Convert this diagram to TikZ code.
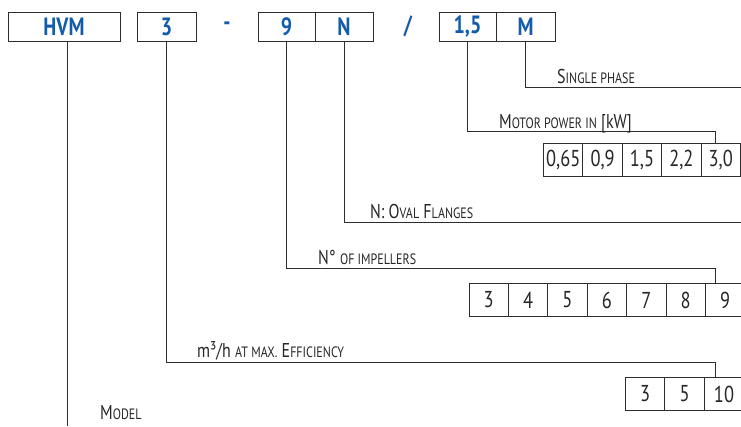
\documentclass[tikz,border=0pt]{standalone}
\usepackage{fontspec}
\setmainfont{PT Sans}[FakeStretch=0.8]
\usetikzlibrary{calc}
\definecolor{codeblue}{RGB}{20,92,170}
\definecolor{linegray}{RGB}{45,45,45}
\newcommand{\smc}[1]{{\fontsize{15}{18}\selectfont #1}}

\begin{document}
\begin{tikzpicture}[x=1pt, y=-1pt,
  code/.style={draw=linegray, line width=1pt, minimum height=29pt, inner sep=0,
    font=\fontsize{25}{29}\selectfont\bfseries, text=codeblue},
  sep/.style={inner sep=0, font=\fontsize{25}{29}\selectfont\bfseries, text=codeblue},
  opt/.style={draw=linegray, line width=1pt, minimum width=39.4pt, minimum height=33pt,
    inner sep=0, anchor=north west, font=\fontsize{23}{27}\selectfont, text=black!85},
  lbl/.style={anchor=base west, inner sep=0, font=\fontsize{20}{24}\selectfont, text=black!85},
  link/.style={draw=linegray, line width=1pt}]
\useasboundingbox (0,0) rectangle (741,426);
\clip (0,0) rectangle (741,426);

\node[code, minimum width=112pt] (hvm) at (64,26.5) {HVM};
\node[code, minimum width=59pt] (size) at (166.5,26.5) {3};
\node[sep] (dash) at (227,26.5) {-};
\node[code, minimum width=57pt] (stages) at (286.5,26.5) {9};
\node[code, minimum width=58pt] (flange) at (344,26.5) {N};
\node[sep] (slash) at (408,26.5) {/};
\node[code, minimum width=57pt] (power) at (467.5,26.5) {1,5};
\node[code, minimum width=59pt] (phase) at (525.5,26.5) {M};

\foreach \v [count=\i] in {{0,65},{0,9},{1,5},{2,2},{3,0}}
  \node[opt] (kw\i) at ({543+39.4*(\i-1)},143) {\v};
\foreach \v [count=\i] in {3,...,9}
  \node[opt] (imp\i) at ({468.5+39.4*(\i-1)},283) {\v};
\foreach \v [count=\i] in {3,5,10}
  \node[opt] (flow\i) at ({625+39.4*(\i-1)},377) {\v};

\coordinate (phaseend) at (741,87);
\coordinate (kwturn) at (715,131);
\coordinate (flangeend) at (741,222);
\coordinate (impturn) at (715,268);
\coordinate (flowturn) at (715,362);
\coordinate (modelend) at (67,426);

\draw[link] (phase.south) |- (phaseend);
\draw[link] (power.south) |- (kwturn) -- (kwturn |- kw5.north);
\draw[link] (flange.south) |- (flangeend);
\draw[link] (stages.south) |- (impturn) -- (impturn |- imp7.north);
\draw[link] (size.south) |- (flowturn) -- (flowturn |- flow3.north);
\draw[link] (hvm.south -| modelend) -- (modelend);

\node[lbl] (phaselbl) at (557,83) {S\smc{INGLE PHASE}};
\node[lbl] (kwlbl) at (499,128) {M\smc{OTOR POWER IN} [kW]};
\node[lbl] (flangelbl) at (370,218) {N: O\smc{VAL} F\smc{LANGES}};
\node[lbl] (implbl) at (318,264) {N° \smc{OF IMPELLERS}};
\node[lbl] (flowlbl) at (197,357) {m³/h \smc{AT MAX.} E\smc{FFICIENCY}};
\node[lbl] (modellbl) at (100,419) {M\smc{ODEL}};
\end{tikzpicture}
\end{document}
